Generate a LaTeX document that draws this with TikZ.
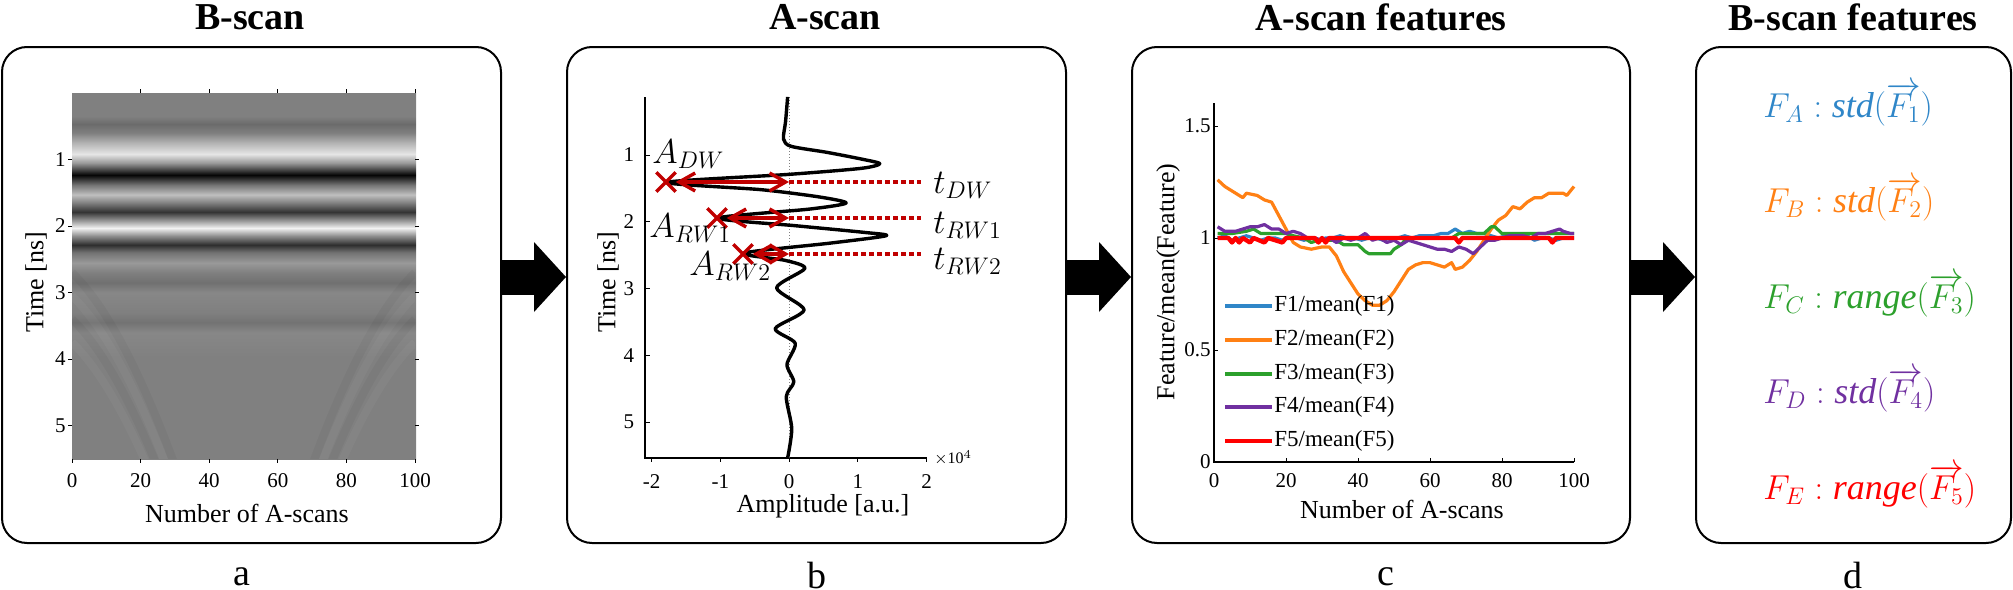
\documentclass[tikz,border=0pt]{standalone}
\usepackage{fontspec}
\setmainfont{Liberation Serif}
\usetikzlibrary{arrows.meta,shapes.misc}

\definecolor{fblue}{HTML}{2F86C8}
\definecolor{forange}{HTML}{FF8014}
\definecolor{fgreen}{HTML}{2CA02C}
\definecolor{fpurple}{HTML}{7030A0}
\definecolor{fred}{HTML}{FF0000}
\definecolor{darkred}{HTML}{C00000}

% grey bands of the B-scan, bottom (5.5 ns, 25bp) to top (0 ns, 75bp)
\pgfdeclareverticalshading{bscan}{100bp}{color(0bp)=(black!50); color(25bp)=(black!50);
  color(38.65bp)=(black!50); color(42.25bp)=(black!47); color(43.65bp)=(black!55);
  color(45bp)=(black!50); color(47.75bp)=(black!47); color(49.1bp)=(black!56);
  color(50.45bp)=(black!50); color(51.8bp)=(black!40); color(53.2bp)=(black!55);
  color(54.25bp)=(black!82); color(55.45bp)=(black!45); color(56.55bp)=(black!5);
  color(57.55bp)=(black!40); color(58.75bp)=(black!80); color(60bp)=(black!50);
  color(61.1bp)=(black!25); color(62.45bp)=(black!55); color(63.8bp)=(black!98);
  color(65.45bp)=(black!40); color(66.65bp)=(black!10); color(68.2bp)=(black!30);
  color(69.55bp)=(black!50); color(70.75bp)=(black!58); color(71.8bp)=(black!50);
  color(75bp)=(black!50); color(100bp)=(black!50)}

\begin{document}
\begin{tikzpicture}[x=0.5pt, y=-0.5pt,
    panel/.style={draw, line width=1pt, rounded corners=12.5pt, minimum height=248pt, inner sep=0pt},
    title/.style={font=\fontsize{19}{22}\selectfont\bfseries},
    sublabel/.style={font=\fontsize{19}{22}\selectfont},
    axlabel/.style={font=\fontsize{13}{15}\selectfont},
    ticklabel/.style={font=\fontsize{10.5}{12}\selectfont, inner sep=1pt},
    leglabel/.style={font=\fontsize{11.5}{13}\selectfont, anchor=west, inner sep=1pt},
    axtick/.style={line width=0.5pt},
    bigarrow/.style={line width=17.5pt, -{Triangle[length=16pt, width=35pt, line width=0pt]}},
    wave/.style={line width=1.7pt, line join=round},
    ghost/.style={line width=4pt, opacity=0.035},
    mlabel/.style={font=\fontsize{17.5}{20}\selectfont, anchor=base west, inner sep=0pt},
    xmark/.style={cross out, draw=darkred, line width=1.7pt, minimum size=8pt, inner sep=0pt},
    dblarrow/.style={darkred, line width=1.7pt, {Straight Barb[length=8pt, width=9pt]}-{Straight Barb[length=8pt, width=9pt]}},
    dotline/.style={darkred, line width=1.7pt, dash pattern=on 2.5pt off 1.5pt, shorten >=6pt},
    fone/.style={fblue, line width=1.6pt, line join=round},
    ftwo/.style={forange, line width=1.6pt, line join=round},
    fthree/.style={fgreen, line width=1.6pt, line join=round},
    ffour/.style={fpurple, line width=1.6pt, line join=round},
    ffive/.style={fred, line width=2.2pt, line join=round},
    feat/.style={font=\fontsize{18}{21}\selectfont, anchor=base west, inner sep=0pt}]
    \useasboundingbox (0,0) rectangle (2013,589);

    % Draw the four panels
    \node[panel, minimum width=249.5pt] (boxa) at (251.5,295) {};
    \node[panel, minimum width=249.5pt] (boxb) at (816.5,295) {};
    \node[panel, minimum width=249pt] (boxc) at (1381,295) {};
    \node[panel, minimum width=157.5pt] (boxd) at (1853.5,295) {};

    % Titles and panel letters
    \node[title] (ta) at (250,17) {B-scan};
    \node[title] (tb) at (825,17) {A-scan};
    \node[title] (tc) at (1381,17) {A-scan features};
    \node[title] (td) at (1853,17) {B-scan features};
    \node[sublabel] (la) at (242,577) {a};
    \node[sublabel] (lb) at (817,575) {b};
    \node[sublabel] (lc) at (1386,577) {c};
    \node[sublabel] (ld) at (1853,575) {d};

    % Arrows between the panels
    \draw[bigarrow] ([yshift=9pt]boxa.east) -- ([yshift=9pt]boxb.west);
    \draw[bigarrow] ([yshift=9pt]boxb.east) -- ([yshift=9pt]boxc.west);
    \draw[bigarrow] ([yshift=9pt]boxc.east) -- ([yshift=9pt]boxd.west);

    % Panel a: B-scan image
    \shade[shading=bscan] (72,93) rectangle (416,459);
    \begin{scope}[shift={(72,93)}, x=1.715pt, y=-33.25pt]
        % faint diffraction tails
        \begin{scope}
            \clip (0,2.6) rectangle (100,5.5);
            \foreach \d/\c in {0/black,0.35/white,0.7/black,1.05/white} {
                \draw[ghost, \c] (0,2.7+\d) .. controls (10,3.2+\d) and (20,4.2+\d) .. (30,5.6+\d);
                \draw[ghost, \c] (100,2.7+\d) .. controls (90,3.2+\d) and (80,4.2+\d) .. (70,5.6+\d);
            }
        \end{scope}
        \foreach \n in {0,20,...,100} {
            \draw[axtick] (\n,5.5) -- ++(0pt,-2pt);
            \node[ticklabel, anchor=north, yshift=-6pt] (xa\n) at (\n,5.5) {\n};
        }
        \foreach \n in {20,40,...,100}
            \draw[axtick] (\n,0) -- ++(0pt,2pt);
        \foreach \t in {1,...,5} {
            \draw[axtick] (0,\t) -- ++(-2pt,0pt);
            \draw[axtick] (100,\t) -- ++(2pt,0pt);
            \node[ticklabel, anchor=east, xshift=-2pt] (ya\t) at (0,\t) {\t};
        }
    \end{scope}
    \node[axlabel, rotate=90] (yla) at (36,282) {Time [ns]};
    \node[axlabel] (xla) at (247,513) {Number of A-scans};

    % Panel b: A-scan trace
    \draw[line width=0.6pt] (645,97) -- (645,458) -- (927,458);
    \draw[gray, line width=0.5pt, densely dotted] (789,97) -- (789,458);
    \begin{scope}[shift={(789,88.25)}, x=34.375pt, y=-33.375pt]
        \foreach \a in {-2,...,2} {
            \draw[axtick] (\a,5.54) -- ++(0pt,-2pt);
            \node[ticklabel, anchor=north, yshift=-7pt] (xb\a) at (\a,5.54) {\a};
        }
        \foreach \t in {1,...,5} {
            \draw[axtick] (-2.1,\t) -- ++(2.5pt,0pt);
            \node[ticklabel, anchor=east, xshift=-4pt] (yb\t) at (-2.1,\t) {\t};
        }
        \draw[wave] plot[smooth, tension=0.45] coordinates {(-0.02,0.13) (-0.05,0.5) (-0.08,0.76)
            (0.03,0.87) (0.55,0.96) (1.05,1.06) (1.32,1.13) (1.05,1.2) (0,1.29) (-1.78,1.41)
            (-0.4,1.52) (0.45,1.63) (0.83,1.72) (0.3,1.81) (-1.04,1.945) (0.1,2.06) (1.1,2.16)
            (1.41,2.21) (0.6,2.32) (-0.66,2.47) (-0.05,2.58) (0.23,2.7) (-0.18,2.99) (0.22,3.32)
            (-0.2,3.6) (0.09,3.82) (-0.03,4.14) (0.07,4.4) (-0.04,4.62) (0.04,5.1) (-0.02,5.54)};
    \end{scope}
    \node[anchor=west, font=\fontsize{8}{9}\selectfont, inner sep=0pt] (expb) at (934,458) {$\times$10$^{4}$};
    \node[axlabel, rotate=90] (ylb) at (608,282) {Time [ns]};
    \node[axlabel] (xlb) at (823,506) {Amplitude [a.u.]};

    % Peaks, amplitudes and times
    \node[xmark] (mdw) at (666,182) {};
    \node[xmark] (mrw1) at (717,218) {};
    \node[xmark] (mrw2) at (743,254) {};
    \coordinate (zdw) at (789,182);
    \coordinate (zrw1) at (789,218);
    \coordinate (zrw2) at (789,254);
    \node[mlabel] (adw) at (652,163) {$A_{DW}$};
    \node[mlabel] (arw1) at (649,237) {$A_{RW1}$};
    \node[mlabel] (arw2) at (689,275) {$A_{RW2}$};
    \node[mlabel] (tdw) at (933,193) {$t_{DW}$};
    \node[mlabel] (trw1) at (933,233) {$t_{RW1}$};
    \node[mlabel] (trw2) at (933,269) {$t_{RW2}$};
    \draw[dblarrow] (mdw) -- (zdw);
    \draw[dblarrow] (mrw1) -- (zrw1);
    \draw[dblarrow] (mrw2) -- (zrw2);
    \draw[dotline] (zdw) -- (zdw -| tdw.west);
    \draw[dotline] (zrw1) -- (zrw1 -| trw1.west);
    \draw[dotline] (zrw2) -- (zrw2 -| trw2.west);

    % Panel c: normalised A-scan features
    \draw[line width=0.6pt] (1214,103) -- (1214,462) -- (1574,462);
    \begin{scope}[shift={(1214,462)}, x=1.8pt, y=112pt]
        \foreach \n in {0,20,...,100} {
            \draw[axtick] (\n,0) -- ++(0pt,2pt);
            \node[ticklabel, anchor=north, yshift=-4.5pt] (xc\n) at (\n,0) {\n};
        }
        \foreach \v in {0,0.5,1,1.5} {
            \draw[axtick] (0,\v) -- ++(2pt,0pt);
            \node[ticklabel, anchor=east, xshift=-0.5pt] (yc\v) at (0,\v) {\v};
        }
        \draw[fone] plot coordinates {(1,1.00) (3,1.01) (5,0.99) (7,1.00) (9,1.01) (11,1.00) (13,0.99)
            (15,1.00) (17,1.00) (19,0.99) (21,1.01) (23,1.00) (25,0.99) (27,1.00) (29,0.99) (31,1.00)
            (33,1.00) (35,1.01) (37,1.00) (39,1.00) (41,0.99) (43,1.00) (45,1.00) (47,0.99) (49,1.00)
            (51,1.00) (53,1.01) (55,1.00) (57,1.01) (59,1.01) (61,1.01) (63,1.02) (65,1.02) (67,1.04)
            (69,1.02) (71,1.03) (73,1.02) (75,1.02) (77,1.01) (79,1.00) (81,1.01) (83,1.00) (85,1.00)
            (87,1.01) (89,0.99) (91,1.00) (93,1.00) (95,0.99) (97,1.00) (99,1.00) (100,1.00)};
        \draw[ftwo] plot coordinates {(1,1.26) (3,1.23) (6,1.20) (8,1.18) (9,1.20) (12,1.19) (14,1.17)
            (16,1.16) (18,1.10) (20,1.04) (22,0.98) (24,0.96) (27,0.95) (30,0.96) (32,0.96) (34,0.92)
            (36,0.85) (38,0.80) (40,0.75) (42,0.72) (44,0.70) (46,0.70) (48,0.72) (50,0.76) (52,0.81)
            (54,0.86) (56,0.88) (58,0.89) (60,0.89) (62,0.88) (64,0.87) (66,0.89) (67,0.86) (69,0.87)
            (71,0.90) (73,0.94) (75,0.99) (77,1.04) (79,1.08) (81,1.10) (83,1.14) (85,1.13) (87,1.16)
            (89,1.18) (91,1.18) (93,1.20) (95,1.20) (97,1.20) (98,1.19) (100,1.23)};
        \draw[fthree] plot coordinates {(1,1.02) (5,1.02) (9,1.03) (11,1.04) (13,1.02) (20,1.02)
            (22,1.01) (25,1.00) (27,0.98) (29,0.99) (33,0.99) (35,0.98) (36,0.97) (40,0.97) (42,0.94)
            (43,0.93) (49,0.93) (50,0.95) (52,0.97) (53,0.99) (55,1.00) (66,1.00) (68,1.02) (75,1.02)
            (77,1.05) (78,1.05) (80,1.02) (100,1.02)};
        \draw[ffour] plot coordinates {(1,1.05) (3,1.03) (6,1.03) (8,1.04) (10,1.05) (12,1.05) (14,1.06)
            (16,1.04) (18,1.04) (20,1.02) (22,1.03) (24,1.02) (26,1.00) (28,1.00) (30,0.99) (32,1.00)
            (34,0.98) (36,1.00) (38,0.99) (40,1.00) (42,1.02) (44,0.99) (46,1.00) (48,0.98) (50,0.99)
            (52,0.97) (54,0.99) (56,0.98) (58,0.97) (60,0.96) (62,0.95) (64,0.95) (66,0.94) (68,0.96)
            (70,0.95) (72,0.93) (74,0.96) (76,0.99) (78,0.99) (80,1.00) (82,1.01) (84,1.01) (86,1.01)
            (88,1.00) (90,1.02) (92,1.02) (94,1.03) (96,1.04) (97,1.03) (99,1.02) (100,1.02)};
        \draw[ffive] plot coordinates {(1,1.00) (4,1.00) (5,0.98) (6,1.00) (7,0.98) (8,1.00) (10,0.98)
            (11,1.00) (14,0.98) (15,1.00) (19,0.98) (20,1.00) (28,1.00) (29,0.98) (30,1.00) (31,0.98)
            (32,1.00) (67,1.00) (68,0.98) (69,1.00) (93,1.00) (94,0.98) (95,1.00) (100,1.00)};
    \end{scope}
    \node[axlabel, rotate=90] (ylc) at (1168,282) {Feature/mean(Feature)};
    \node[axlabel] (xlc) at (1402,509) {Number of A-scans};

    % Legend of panel c
    \node[leglabel] (g1) at (1272,306) {F1/mean(F1)};
    \node[leglabel] (g2) at (1272,340) {F2/mean(F2)};
    \node[leglabel] (g3) at (1272,374) {F3/mean(F3)};
    \node[leglabel] (g4) at (1272,407) {F4/mean(F4)};
    \node[leglabel] (g5) at (1272,441) {F5/mean(F5)};
    \draw[fone] (1225,306) -- (g1.west);
    \draw[ftwo] (1225,340) -- (g2.west);
    \draw[fthree] (1225,374) -- (g3.west);
    \draw[ffour] (1225,407) -- (g4.west);
    \draw[ffive] (1225,441) -- (g5.west);

    % Panel d: B-scan features
    \node[feat, text=fblue] (fa) at (1763,117) {$F_A : \mathit{std}(\overrightarrow{F_1})$};
    \node[feat, text=forange] (fb) at (1763,212) {$F_B : \mathit{std}(\overrightarrow{F_2})$};
    \node[feat, text=fgreen] (fc) at (1763,308) {$F_C : \mathit{range}(\overrightarrow{F_3})$};
    \node[feat, text=fpurple] (fd) at (1763,403) {$F_D : \mathit{std}(\overrightarrow{F_4})$};
    \node[feat, text=fred] (fe) at (1763,499) {$F_E : \mathit{range}(\overrightarrow{F_5})$};
\end{tikzpicture}
\end{document}
